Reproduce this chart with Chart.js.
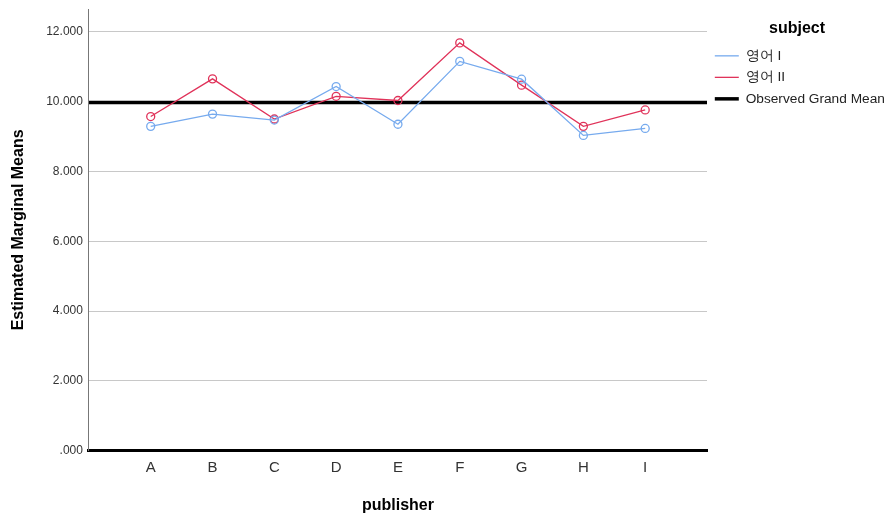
<!DOCTYPE html>
<html>
<head>
<meta charset="utf-8">
<script src="https://cdn.jsdelivr.net/npm/chart.js@4.4.0/dist/chart.umd.min.js"></script>
<style>
  html, body { margin: 0; padding: 0; background: #fff; }
  #wrap { width: 887px; height: 518px; }
</style>
</head>
<body>
<div id="wrap"><canvas id="grafico" width="887" height="518"></canvas></div>
<script>
// datos
const publishers = ['A', 'B', 'C', 'D', 'E', 'F', 'G', 'H', 'I'];
const english1 = [9.29, 9.64, 9.47, 10.43, 9.35, 11.15, 10.64, 9.03, 9.23];
const english2 = [9.57, 10.65, 9.50, 10.15, 10.03, 11.68, 10.47, 9.29, 9.76];
const grandMean = 9.97;
const yTicks = [0, 2, 4, 6, 8, 10, 12];

const blue = '#76aaee';
const red = '#e0335a';

function puntos(arr) {
  return arr.map((v, i) => ({ x: i + 1, y: v }));
}

const ctx = document.getElementById('grafico').getContext('2d');
window.myChart = new Chart(ctx, {
  type: 'line',
  data: {
    datasets: [
      {
        label: '영어 I',
        data: puntos(english1),
        borderColor: blue,
        backgroundColor: 'rgba(0,0,0,0)',
        borderWidth: 1.3,
        pointRadius: 4,
        pointBorderWidth: 1.3,
        pointBorderColor: blue,
        pointBackgroundColor: 'rgba(255,255,255,0)'
      },
      {
        label: '영어 II',
        data: puntos(english2),
        borderColor: red,
        backgroundColor: 'rgba(0,0,0,0)',
        borderWidth: 1.3,
        pointRadius: 4,
        pointBorderWidth: 1.3,
        pointBorderColor: red,
        pointBackgroundColor: 'rgba(255,255,255,0)'
      },
      {
        label: 'Observed Grand Mean',
        data: [{ x: 0, y: grandMean }, { x: publishers.length + 1, y: grandMean }],
        borderColor: '#000',
        backgroundColor: '#000',
        borderWidth: 3.5,
        pointRadius: 0
      }
    ]
  },
  options: {
    responsive: false,
    animation: false,
    layout: { padding: { top: 9, left: 9, right: 0, bottom: 3 } },
    plugins: {
      tooltip: { enabled: false },
      legend: {
        position: 'right',
        align: 'start',
        maxWidth: 180,
        title: {
          display: true,
          text: 'subject',
          color: '#000',
          font: { family: 'Liberation Sans, Arial', size: 16, weight: 'bold' },
          padding: { top: 12, bottom: 1 }
        },
        labels: {
          usePointStyle: true,
          pointStyleWidth: 24,
          color: '#222',
          padding: 7.8,
          font: { family: 'Liberation Sans, Arial', size: 13.7 },
          generateLabels: chart => {
            const items = Chart.defaults.plugins.legend.labels.generateLabels(chart);
            items.forEach(it => { it.pointStyle = 'line'; });
            return items;
          }
        }
      }
    },
    scales: {
      x: {
        type: 'linear',
        min: 0,
        max: publishers.length + 1,
        afterBuildTicks: scale => {
          scale.ticks = publishers.map((p, i) => ({ value: i + 1 }));
        },
        ticks: {
          autoSkip: false,
          color: '#333',
          padding: 8,
          font: { family: 'Liberation Sans, Arial', size: 15 },
          callback: v => publishers[v - 1] || ''
        },
        grid: { display: false, drawTicks: false },
        border: { color: '#000', width: 3 },
        title: {
          display: true,
          text: 'publisher',
          color: '#000',
          font: { family: 'Liberation Sans, Arial', size: 16, weight: 'bold' },
          padding: { top: 11, bottom: 0 }
        }
      },
      y: {
        min: 0,
        max: 12.65,
        afterBuildTicks: scale => {
          scale.ticks = yTicks.map(v => ({ value: v }));
        },
        afterFit: scale => {
          scale.paddingTop = 0;
        },
        ticks: {
          color: '#333',
          padding: 6,
          font: { family: 'Liberation Sans, Arial', size: 12 },
          callback: v => v === 0 ? '.000' : v.toFixed(3)
        },
        grid: {
          drawTicks: false,
          color: c => c.tick && c.tick.value === 0 ? 'rgba(0,0,0,0)' : '#c8c8c8',
          lineWidth: 1
        },
        border: { color: '#777', width: 1 },
        title: {
          display: true,
          text: 'Estimated Marginal Means',
          color: '#000',
          font: { family: 'Liberation Sans, Arial', size: 16, weight: 'bold' },
          padding: { top: 0, bottom: 12 }
        }
      }
    }
  }
});
</script>
</body>
</html>
